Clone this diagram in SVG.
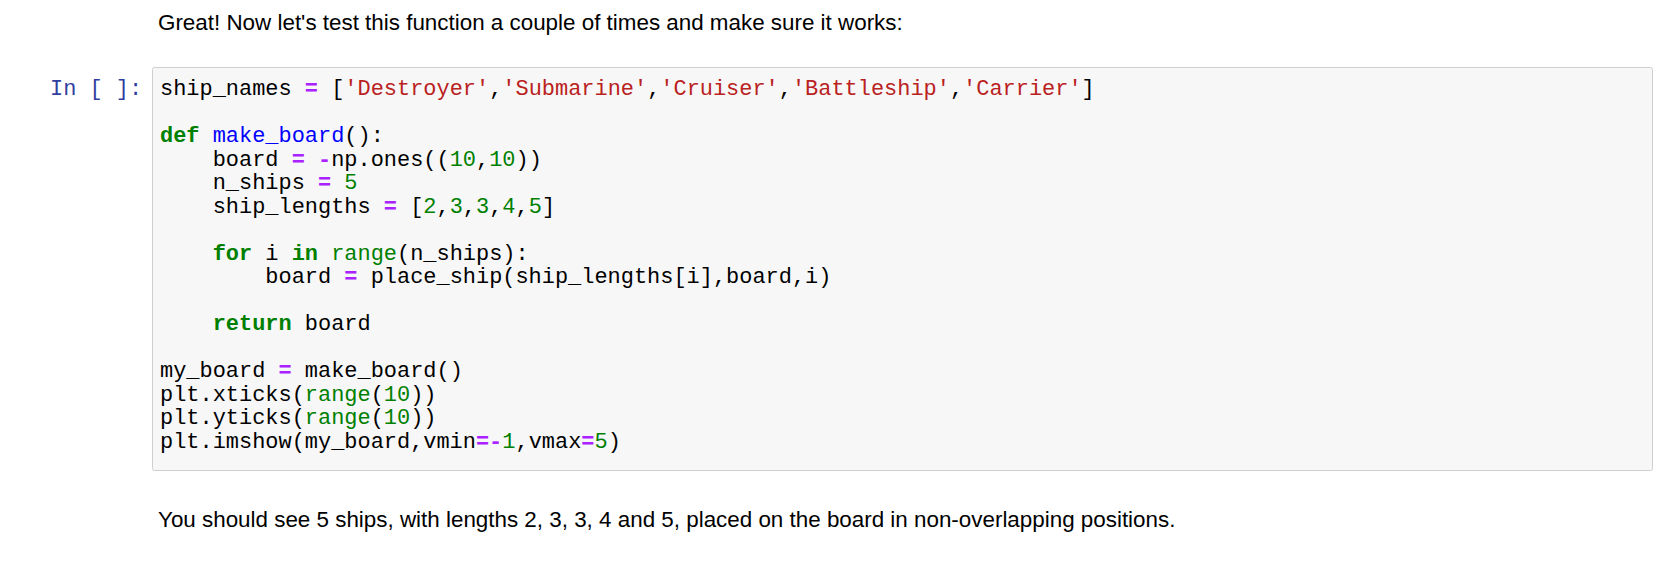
<svg xmlns="http://www.w3.org/2000/svg" width="1670" height="564" viewBox="0 0 1670 564">
<style>
.t{font-family:"Liberation Sans",Arial,sans-serif;font-size:22.4px;fill:#000}
.c{font-family:"Liberation Mono","Courier New",monospace;font-size:21.95px;fill:#000;white-space:pre}
.k{fill:#008000;font-weight:bold}
.n{fill:#008000}
.s{fill:#BA2121}
.o{fill:#AA22FF;font-weight:bold}
.f{fill:#0000FF}
.p{fill:#303F9F}
</style>
<rect width="1670" height="564" fill="#fff"/>
<g id="intro"><text class="t" x="158" y="30">Great! Now let's test this function a couple of times and make sure it works:</text></g>
<g id="prompt"><text class="c p" x="50" y="95" xml:space="preserve">In [ ]:</text></g>
<g id="cell">
<rect x="152.5" y="67.5" width="1500" height="403" rx="2" fill="#f7f7f7" stroke="#cfcfcf" stroke-width="1"/>
<text class="c" xml:space="preserve">
<tspan x="160" y="95">ship_names <tspan class="o">=</tspan> [<tspan class="s">'Destroyer'</tspan>,<tspan class="s">'Submarine'</tspan>,<tspan class="s">'Cruiser'</tspan>,<tspan class="s">'Battleship'</tspan>,<tspan class="s">'Carrier'</tspan>]</tspan>
<tspan x="160" y="142"><tspan class="k">def</tspan> <tspan class="f">make_board</tspan>():</tspan>
<tspan x="160" y="165.5">    board <tspan class="o">=</tspan> <tspan class="o">-</tspan>np.ones((<tspan class="n">10</tspan>,<tspan class="n">10</tspan>))</tspan>
<tspan x="160" y="189">    n_ships <tspan class="o">=</tspan> <tspan class="n">5</tspan></tspan>
<tspan x="160" y="212.5">    ship_lengths <tspan class="o">=</tspan> [<tspan class="n">2</tspan>,<tspan class="n">3</tspan>,<tspan class="n">3</tspan>,<tspan class="n">4</tspan>,<tspan class="n">5</tspan>]</tspan>
<tspan x="160" y="259.5">    <tspan class="k">for</tspan> i <tspan class="k">in</tspan> <tspan class="n">range</tspan>(n_ships):</tspan>
<tspan x="160" y="283">        board <tspan class="o">=</tspan> place_ship(ship_lengths[i],board,i)</tspan>
<tspan x="160" y="330">    <tspan class="k">return</tspan> board</tspan>
<tspan x="160" y="377">my_board <tspan class="o">=</tspan> make_board()</tspan>
<tspan x="160" y="400.5">plt.xticks(<tspan class="n">range</tspan>(<tspan class="n">10</tspan>))</tspan>
<tspan x="160" y="424">plt.yticks(<tspan class="n">range</tspan>(<tspan class="n">10</tspan>))</tspan>
<tspan x="160" y="447.5">plt.imshow(my_board,vmin<tspan class="o">=-</tspan><tspan class="n">1</tspan>,vmax<tspan class="o">=</tspan><tspan class="n">5</tspan>)</tspan>
</text>
</g>
<g id="outro"><text class="t" x="158" y="527">You should see 5 ships, with lengths 2, 3, 3, 4 and 5, placed on the board in non-overlapping positions.</text></g>
<g id="connectors"/>
</svg>
